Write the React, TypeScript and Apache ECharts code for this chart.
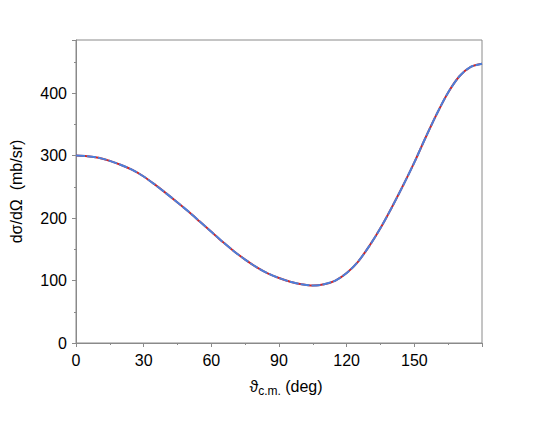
import React, { useEffect, useRef } from "react";
import * as echarts from "echarts";

const angles = [0, 5, 10, 15, 20, 25, 30, 35, 40, 45, 50, 55, 60, 65, 70, 75, 80, 85, 90, 95, 100, 105, 110, 115, 120, 125, 130, 135, 140, 145, 150, 155, 160, 165, 170, 175, 180];
const sigmaA = [300, 299, 296.5, 291.5, 285, 277, 266.5, 253.5, 239.5, 225, 210, 194, 178, 162, 147, 133.5, 121.5, 111.5, 104, 98, 94, 92, 94, 100, 112, 130, 155, 184, 217, 252, 289, 329, 367, 401, 427, 442, 447];
const sigmaB = [300, 299, 296.5, 291.5, 285, 277, 266.5, 253.5, 239.5, 225, 210, 194, 178, 162, 147, 133.5, 121.5, 111.5, 104, 98, 94, 92, 94, 100, 112, 130, 155, 184, 217, 252, 289, 329, 367, 401, 427, 442, 447];
const xTicks = [0, 30, 60, 90, 120, 150, 180];
const yTicks = [0, 100, 200, 300, 400];

export default function App() {
  const ref = useRef<HTMLDivElement>(null);
  useEffect(() => {
    if (!ref.current) return;
    const chart = echarts.init(ref.current, undefined, { renderer: "svg" });
    const font = "'Liberation Sans', Arial, Helvetica, sans-serif";
    const gray = "#8a8a8a";
    chart.setOption({
      animation: false,
      backgroundColor: "#fff",
      grid: {
        left: 72,
        right: 63,
        top: 40,
        bottom: 78,
        show: true,
        borderColor: gray,
        borderWidth: 1,
        backgroundColor: "transparent",
      },
      xAxis: {
        type: "value",
        min: xTicks[0],
        max: xTicks[xTicks.length - 1],
        interval: 30,
        axisLine: { show: true, lineStyle: { color: gray, width: 1 } },
        axisTick: { show: true, length: 4, lineStyle: { color: gray } },
        minorTick: { show: true, splitNumber: 2, length: 2, lineStyle: { color: gray } },
        splitLine: { show: false },
        axisLabel: {
          color: "#000",
          fontSize: 16,
          fontFamily: font,
          margin: 9,
          showMaxLabel: false,
        },
        name: "{a|ϑ}{s|c.m.}{a| (deg)}",
        nameLocation: "middle",
        nameGap: 33,
        nameTextStyle: {
          padding: [0, 0, 0, 14],
          rich: {
            a: { fontSize: 16, fontFamily: font, color: "#000" },
            s: { fontSize: 12, fontFamily: font, color: "#000", padding: [9, 0, 0, 0] },
          },
        },
      },
      yAxis: {
        type: "value",
        min: yTicks[0],
        max: 485,
        interval: 100,
        axisLine: { show: true, lineStyle: { color: gray, width: 1 } },
        axisTick: { show: true, length: 4, lineStyle: { color: gray } },
        minorTick: { show: true, splitNumber: 2, length: 2, lineStyle: { color: gray } },
        splitLine: { show: false },
        axisLabel: {
          color: "#000",
          fontSize: 16,
          fontFamily: font,
          margin: 9,
          showMaxLabel: false,
        },
        name: "dσ/dΩ  (mb/sr)",
        nameLocation: "middle",
        nameGap: 52,
        nameTextStyle: { color: "#000", fontSize: 16, fontFamily: font },
      },
      series: [
        {
          type: "line",
          data: angles.map((a, i) => [a, sigmaA[i]]),
          smooth: 0.3,
          showSymbol: false,
          lineStyle: { color: "#d42424", width: 2 },
          z: 2,
        },
        {
          type: "line",
          data: angles.map((a, i) => [a, sigmaB[i]]),
          smooth: 0.3,
          showSymbol: false,
          lineStyle: { color: "#4a80dc", width: 2, type: [9, 2] },
          z: 3,
        },
      ],
    });
    return () => chart.dispose();
  }, []);
  return <div ref={ref} style={{ width: 545, height: 421, position: "absolute", left: 0, top: 0 }} />;
}
